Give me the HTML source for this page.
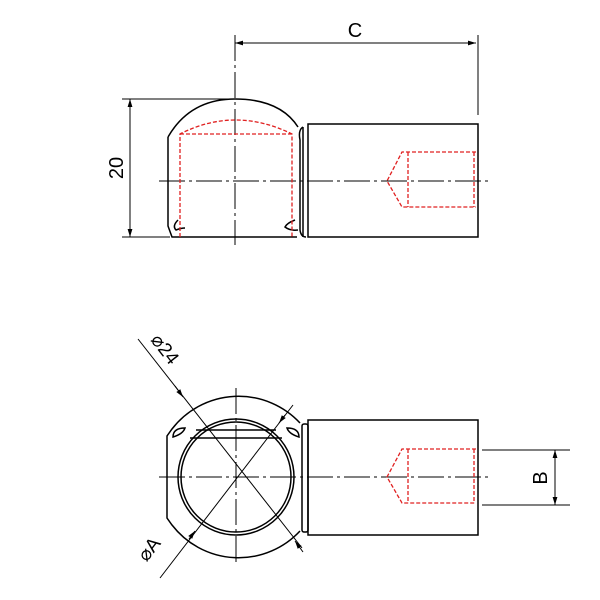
<!DOCTYPE html><html><head><style>body{margin:0;background:#fff}svg{display:block}</style></head><body>
<svg width="600" height="600" viewBox="0 0 600 600" xmlns="http://www.w3.org/2000/svg" font-family="Liberation Sans, sans-serif">
<defs><marker id="a" viewBox="0 0 10 10" refX="10" refY="5" markerWidth="8" markerHeight="8" markerUnits="userSpaceOnUse" orient="auto-start-reverse"><path d="M0,2 L10,5 L0,8z" fill="#000"/></marker></defs>
<g fill="none" stroke="#000" stroke-width="1.5">
<path d="M168,137 Q190,99 235,99 Q280,99 298,127"/>
<path d="M168,137 L168,226 L172,237 L297,237"/>
<path d="M303,127 Q298,130 300,140 L300,230 Q301,237 306,237"/>
<line x1="303" y1="127" x2="303" y2="237"/>
<rect x="308" y="124" width="170" height="113"/>
<path d="M178,220 Q172,226 176,230 Q181,228 185,228"/>
<path d="M295,220 Q287,223 285,227 Q290,231 298,230"/>
<line x1="235" y1="35" x2="235" y2="245" stroke-dasharray="26,4,3,4" stroke-width="1"/>
<line x1="159" y1="181" x2="488" y2="181" stroke-dasharray="26,4,3,4" stroke-width="1"/>
<line x1="235" y1="43" x2="476" y2="43" marker-start="url(#a)" marker-end="url(#a)" stroke-width="1"/>
<line x1="478" y1="35" x2="478" y2="115" stroke-width="1"/>
<line x1="122" y1="99" x2="230" y2="99" stroke-width="1"/>
<line x1="122" y1="237" x2="170" y2="237" stroke-width="1"/>
<line x1="130" y1="99" x2="130" y2="237" marker-start="url(#a)" marker-end="url(#a)" stroke-width="1"/>
<path d="M300,423 A84,84 0 0 0 172,429 L167,436 L167,518 L172,525 A84,84 0 0 0 300,531"/>
<circle cx="236" cy="477" r="58"/>
<circle cx="236" cy="477" r="55"/>
<line x1="196" y1="430" x2="276" y2="430"/>
<line x1="190" y1="438" x2="282" y2="438"/>
<path d="M173,437 Q173,428 185,428 Q183,434 173,437Z"/>
<path d="M299,437 Q299,428 287,428 Q289,434 299,437Z"/>
<rect x="302" y="424" width="6" height="108" rx="2"/>
<rect x="308" y="420" width="170" height="115"/>
<line x1="236" y1="388" x2="236" y2="566" stroke-dasharray="26,4,3,4" stroke-width="1"/>
<line x1="159" y1="477" x2="488" y2="477" stroke-dasharray="26,4,3,4" stroke-width="1"/>
<line x1="138" y1="339" x2="302" y2="548" stroke-width="1"/>
<line x1="175" y1="386" x2="183" y2="397" marker-end="url(#a)" stroke-width="1"/>
<line x1="303" y1="552" x2="295" y2="541" marker-end="url(#a)" stroke-width="1"/>
<line x1="160" y1="578" x2="293" y2="405" stroke-width="1"/>
<line x1="285" y1="415" x2="279" y2="423" marker-end="url(#a)" stroke-width="1"/>
<line x1="189" y1="539" x2="195" y2="531" marker-end="url(#a)" stroke-width="1"/>
<line x1="482" y1="450" x2="570" y2="450" stroke-width="1"/>
<line x1="482" y1="505" x2="570" y2="505" stroke-width="1"/>
<line x1="555" y1="450" x2="555" y2="505" marker-start="url(#a)" marker-end="url(#a)" stroke-width="1"/>
</g>
<g fill="none" stroke="#e02020" stroke-width="1.3" stroke-dasharray="4,2">
<path d="M180,237 L180,134 Q235,106 292,134 L292,237"/>
<line x1="180" y1="134" x2="292" y2="134"/>
<path d="M476,152 L402,152 L387,181 L402,207 L476,207 M408,152 L408,207 M474,152 L474,207"/>
<path d="M476,449 L402,449 L387,477 L402,503 L476,503 M408,449 L408,503 M474,449 L474,503"/>
</g>
<text x="355" y="37" font-size="20" text-anchor="middle">C</text>
<text transform="translate(123,168) rotate(-90)" font-size="20" text-anchor="middle">20</text>
<text transform="translate(547,478) rotate(-90)" font-size="20" text-anchor="middle">B</text>
<text transform="translate(160,353) rotate(52)" font-size="19" text-anchor="middle">⌀24</text>
<text transform="translate(154,553) rotate(-52)" font-size="19" text-anchor="middle">⌀A</text>
</svg></body></html>
